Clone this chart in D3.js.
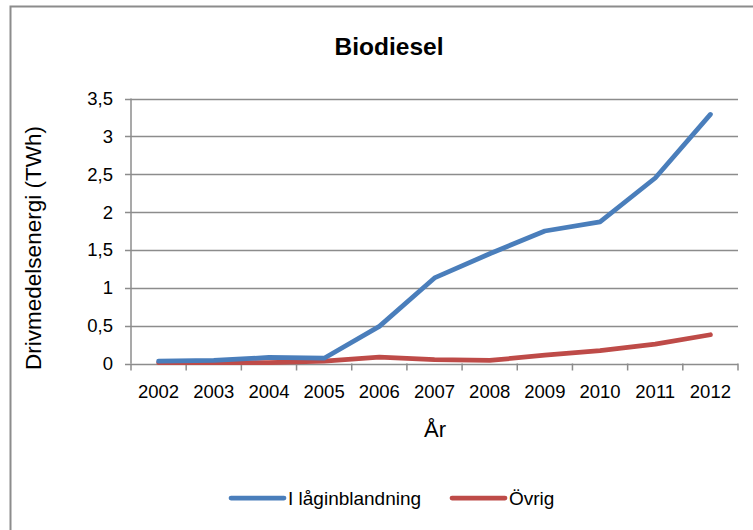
<!DOCTYPE html>
<html>
<head>
<meta charset="utf-8">
<script src="https://cdn.jsdelivr.net/npm/d3@7"></script>
<style>
  body { margin: 0; background: #fff; }
  text { font-family: "Liberation Sans", Arial, sans-serif; fill: #000; }
</style>
</head>
<body>
<div id="chart"></div>
<script>
// data
var years = ["2002","2003","2004","2005","2006","2007","2008","2009","2010","2011","2012"];
var lagin = [0.03, 0.04, 0.08, 0.07, 0.49, 1.13, 1.45, 1.75, 1.87, 2.45, 3.29];
var ovrig = [0.01, 0.01, 0.01, 0.03, 0.085, 0.05, 0.04, 0.11, 0.17, 0.255, 0.38];
var yTicks = [0, 0.5, 1, 1.5, 2, 2.5, 3, 3.5];

var W = 753, H = 530;
var plot = {left: 131, right: 738, top: 98.5, bottom: 363.5};

var svg = d3.select("#chart").append("svg")
    .attr("width", W)
    .attr("height", H);

// outer chart border (runs off right and bottom)
svg.append("path")
    .attr("d", "M10.5," + (H + 5) + " V6.5 H" + (W + 5))
    .attr("fill", "none")
    .attr("stroke", "#8c8c8c")
    .attr("stroke-width", 2);

var x = d3.scaleBand().domain(years).range([plot.left, plot.right]);
var y = d3.scaleLinear().domain([0, 3.5]).range([plot.bottom, plot.top]);

// gridlines
svg.append("g")
    .selectAll("line")
    .data(yTicks)
    .enter().append("line")
    .attr("x1", plot.left - 6)
    .attr("x2", plot.right)
    .attr("y1", function(d) { return Math.round(y(d)) + 0.5; })
    .attr("y2", function(d) { return Math.round(y(d)) + 0.5; })
    .attr("stroke", "#8c8c8c")
    .attr("stroke-width", 1.5);

// y axis line
svg.append("line")
    .attr("x1", plot.left).attr("x2", plot.left)
    .attr("y1", plot.top).attr("y2", plot.bottom)
    .attr("stroke", "#8c8c8c").attr("stroke-width", 1.5);

// y tick labels
svg.append("g")
    .selectAll("text")
    .data(yTicks)
    .enter().append("text")
    .attr("x", 113)
    .attr("y", function(d) { return y(d) + 6.5; })
    .attr("text-anchor", "end")
    .style("font-size", "18.5px")
    .text(function(d) { return String(d).replace(".", ","); });

// x tick marks at category boundaries
var bounds = years.map(function(d) { return x(d); }).concat([plot.right]);
svg.append("g")
    .selectAll("line")
    .data(bounds)
    .enter().append("line")
    .attr("x1", function(d) { return d; })
    .attr("x2", function(d) { return d; })
    .attr("y1", plot.bottom)
    .attr("y2", plot.bottom + 7)
    .attr("stroke", "#8c8c8c").attr("stroke-width", 1.5);

// x tick labels
svg.append("g")
    .selectAll("text")
    .data(years)
    .enter().append("text")
    .attr("x", function(d) { return x(d) + x.bandwidth() / 2; })
    .attr("y", 398)
    .attr("text-anchor", "middle")
    .style("font-size", "18.5px")
    .text(function(d) { return d; });

// lines
var line = d3.line()
    .x(function(d, i) { return x(years[i]) + x.bandwidth() / 2; })
    .y(function(d) { return y(d); });

svg.append("path")
    .attr("d", line(ovrig))
    .attr("fill", "none")
    .attr("stroke", "#be4b48")
    .attr("stroke-width", 4.75)
    .attr("stroke-linecap", "round")
    .attr("stroke-linejoin", "round");

svg.append("path")
    .attr("d", line(lagin))
    .attr("fill", "none")
    .attr("stroke", "#4a7ebb")
    .attr("stroke-width", 4.75)
    .attr("stroke-linecap", "round")
    .attr("stroke-linejoin", "round");

// title
svg.append("text")
    .attr("x", 389)
    .attr("y", 55)
    .attr("text-anchor", "middle")
    .style("font-size", "24.5px")
    .style("font-weight", "bold")
    .text("Biodiesel");

// axis titles
svg.append("text")
    .attr("transform", "translate(41,248) rotate(-90)")
    .attr("text-anchor", "middle")
    .style("font-size", "22.5px")
    .text("Drivmedelsenergi (TWh)");

svg.append("text")
    .attr("x", 435)
    .attr("y", 437)
    .attr("text-anchor", "middle")
    .style("font-size", "22px")
    .text("År");

// legend
var legend = [
  {name: "I låginblandning", color: "#4a7ebb", x: 231},
  {name: "Övrig", color: "#be4b48", x: 452}
];
var lg = svg.append("g").selectAll("g")
    .data(legend)
    .enter().append("g");
lg.append("line")
    .attr("x1", function(d) { return d.x; })
    .attr("x2", function(d) { return d.x + 53; })
    .attr("y1", 498).attr("y2", 498)
    .attr("stroke", function(d) { return d.color; })
    .attr("stroke-width", 4.75)
    .attr("stroke-linecap", "round");
lg.append("text")
    .attr("x", function(d) { return d.x + 57; })
    .attr("y", 505)
    .style("font-size", "19px")
    .text(function(d) { return d.name; });
</script>
</body>
</html>
